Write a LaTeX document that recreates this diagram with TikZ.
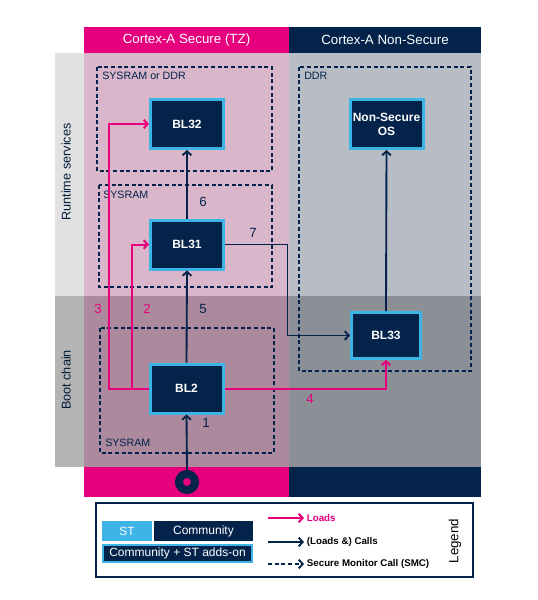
\documentclass[tikz,border=0pt]{standalone}
\usepackage{fontspec}
\setmainfont{Liberation Sans}
\usetikzlibrary{arrows.meta, calc, positioning}
\definecolor{stpink}{RGB}{230,0,126}
\definecolor{stdark}{RGB}{3,35,75}
\definecolor{stblue}{RGB}{60,180,230}
\definecolor{secrun}{RGB}{217,182,201}
\definecolor{secboot}{RGB}{172,137,156}
\definecolor{nsrun}{RGB}{184,188,196}
\definecolor{nsboot}{RGB}{140,144,150}
\definecolor{siderun}{RGB}{225,225,225}
\definecolor{sideboot}{RGB}{180,180,180}

\begin{document}
\begin{tikzpicture}[x=0.75pt, y=-0.75pt,
    blbox/.style={draw=stblue, line width=2.25pt, fill=stdark, text=white, align=center, inner sep=0pt,
        font=\fontsize{9}{10.5}\selectfont\bfseries, minimum width=54.75pt, minimum height=36.75pt},
    membox/.style={draw=stdark, line width=1.1pt, dash pattern=on 3pt off 2pt},
    memlabel/.style={text=stdark, font=\fontsize{8}{9}\selectfont, inner sep=0pt},
    steplabel/.style={font=\fontsize{10}{12}\selectfont, inner sep=0pt},
    loads/.style={draw=stpink, line width=1.5pt, -{Straight Barb[length=3pt,width=6.5pt]}},
    calls/.style={draw=stdark, line width=1.4pt, -{Straight Barb[length=3pt,width=6.5pt]}},
    legtext/.style={anchor=west, inner sep=2pt, font=\fontsize{7.3}{8}\selectfont\bfseries}]
    \useasboundingbox (0,0) rectangle (537,600);

    % Background bands
    \fill[siderun] (55,53) rectangle (84,296);
    \fill[sideboot] (55,296) rectangle (84,467);
    \fill[secrun] (84,53) rectangle (289,296);
    \fill[secboot] (84,296) rectangle (289,467);
    \fill[nsrun] (289,53) rectangle (481,296);
    \fill[nsboot] (289,296) rectangle (481,467);
    \fill[stpink] (84,27) rectangle (289,53);
    \fill[stdark] (289,27) rectangle (481,53);
    \fill[stpink] (84,467) rectangle (289,497);
    \fill[stdark] (289,467) rectangle (481,497);

    % Headers
    \node[text=white, font=\fontsize{10}{12}\selectfont] (sechead) at (186.5,40) {Cortex-A Secure (TZ)};
    \node[text=white, font=\fontsize{10}{12}\selectfont] (nshead) at (385,40) {Cortex-A Non-Secure};
    \node[rotate=90, text=stdark!80!black, font=\fontsize{9.5}{11}\selectfont] (rowrun) at (66,172) {Runtime services};
    \node[rotate=90, text=stdark!80!black, font=\fontsize{9.5}{11}\selectfont] (rowboot) at (66,380) {Boot chain};

    % Memories
    \draw[membox] (97,67) rectangle (272,171);
    \draw[membox] (99,185) rectangle (272,287);
    \draw[membox] (299,67) rectangle (471,371);
    \draw[membox] (100,328) rectangle (274,453);
    \node[memlabel, anchor=north west] (memsec) at (102,72) {SYSRAM or DDR};
    \node[memlabel, anchor=north west] (memrt) at (103,191) {SYSRAM};
    \node[memlabel, anchor=north west] (memns) at (304,72) {DDR};
    \node[memlabel, anchor=west] (memboot) at (105,443) {SYSRAM};

    % Boot stages
    \node[blbox] (BL32) at (187,124) {BL32};
    \node[blbox] (NSOS) at (386.5,124) {Non-Secure\\OS};
    \node[blbox] (BL31) at (187,244.5) {BL31};
    \node[blbox, minimum width=51.75pt, minimum height=34.5pt] (BL33) at (386,335.5) {BL33};
    \node[blbox] (BL2) at (186.5,388.5) {BL2};
    \node[circle, draw=stdark, line width=6pt, minimum size=12pt, inner sep=0pt] (rom) at (187,482) {};

    % Loads
    \draw[loads] (BL2.west) -| ($(BL32.west)+(-40,0)$) -- (BL32.west);
    \draw[loads] ($(BL2.west)+(-17,0)$) |- (BL31.west);
    \draw[loads] (BL2.east) -| (BL33.south);

    % Calls
    \draw[calls] (rom.north) -- (BL2.south);
    \draw[calls] (BL2.north) -- (BL31.south);
    \draw[calls] (BL31.north) -- (BL32.south);
    \draw[calls] (BL31.east) -| ($(BL31.east)!0.5!(BL33.west)$) |- (BL33.west);
    \draw[calls] (BL33.north) -- (NSOS.south);

    % Steps
    \node[steplabel, text=stdark] (s1) at (206,423) {1};
    \node[steplabel, text=stpink] (s2) at (147,309) {2};
    \node[steplabel, text=stpink] (s3) at (98,309) {3};
    \node[steplabel, text=stpink] (s4) at (310,399) {4};
    \node[steplabel, text=stdark] (s5) at (203,309) {5};
    \node[steplabel, text=stdark] (s6) at (203,202) {6};
    \node[steplabel, text=stdark] (s7) at (253,233) {7};

    % Legend
    \draw[stdark, line width=1.5pt, fill=white] (96,503) rectangle (473,577);
    \node[fill=stblue, text=white, inner sep=0pt, minimum width=37.5pt, minimum height=15pt,
        font=\fontsize{9}{10}\selectfont] (lgst) at (127,531) {ST};
    \node[fill=stdark, text=white, inner sep=0pt, minimum width=74.25pt, minimum height=15pt,
        font=\fontsize{9}{10}\selectfont] (lgcom) at (203.5,531) {Community};
    \node[draw=stblue, line width=1.5pt, fill=stdark, text=white, inner sep=0pt, minimum width=111.75pt,
        minimum height=12.75pt, font=\fontsize{9}{10}\selectfont] (lgboth) at (177.5,553.5) {Community + ST adds-on};
    \coordinate (lgloadsfrom) at (268,518);
    \coordinate (lgcallsfrom) at (268,542);
    \coordinate (lgsmcfrom) at (268,564);
    \node[legtext, text=stpink] (lgloads) at (304,518) {Loads};
    \node[legtext] (lgcalls) at (304,542) {(Loads \&) Calls};
    \node[legtext] (lgsmc) at (304,564) {Secure Monitor Call (SMC)};
    \draw[loads] (lgloadsfrom) -- (lgloads.west);
    \draw[calls] (lgcallsfrom) -- (lgcalls.west);
    \draw[calls, dash pattern=on 3pt off 2pt] (lgsmcfrom) -- (lgsmc.west);
    \node[rotate=90, font=\fontsize{10}{12}\selectfont] (lgtitle) at (455,541) {Legend};
\end{tikzpicture}
\end{document}
